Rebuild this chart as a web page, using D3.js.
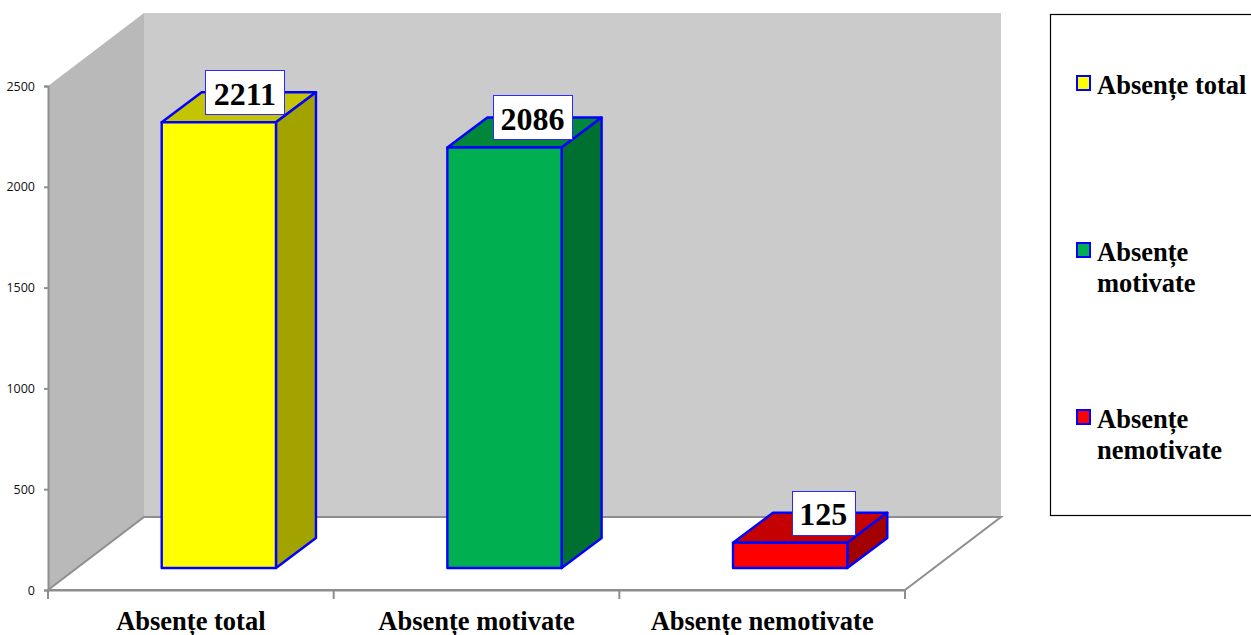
<!DOCTYPE html>
<html><head><meta charset="utf-8">
<script src="https://cdnjs.cloudflare.com/ajax/libs/d3/7.8.5/d3.min.js"></script>
<style>html,body{margin:0;padding:0;background:#fff;overflow:hidden}svg{display:block}</style>
</head><body><svg id="c" width="1251" height="635"></svg>
<script>
const categories = ["Absențe total", "Absențe motivate", "Absențe nemotivate"];
const values = [2211, 2086, 125];
const yTicks = [0, 500, 1000, 1500, 2000, 2500];
const frontColors = ["#ffff00", "#00b050", "#ff0000"];
const topColors = ["#c4c400", "#008739", "#c40000"];
const sideColors = ["#a3a300", "#007031", "#a30000"];
const legendLines = [["Absențe total"], ["Absențe", "motivate"], ["Absențe", "nemotivate"]];

const serif = '"Liberation Serif","Times New Roman",serif';
const svg = d3.select("#c");
const x = d3.scaleBand().domain(categories).range([48, 905]);
const y = d3.scaleLinear().domain([0, 2500]).range([590, 86]);
const wallDx = 96, wallDy = -73;
const pts = a => a.map(p => p.join(",")).join(" ");
const axisCol = "#8e8e8e";

// walls and floor
const y0 = y(0), yT = y(2500), xL = x.range()[0], xR = x.range()[1];
svg.append("polygon").attr("fill", "#cbcbcb")
  .attr("points", pts([[xL+wallDx,yT+wallDy],[xR+wallDx,yT+wallDy],[xR+wallDx,y0+wallDy],[xL+wallDx,y0+wallDy]]));
svg.append("polygon").attr("fill", "#b9b9b9")
  .attr("points", pts([[xL,yT],[xL+wallDx,yT+wallDy],[xL+wallDx,y0+wallDy],[xL,y0]]));
svg.append("polygon").attr("fill", "#fff").attr("stroke", axisCol).attr("stroke-width", 2)
  .attr("points", pts([[xL,y0],[xL+wallDx,y0+wallDy],[xR+wallDx,y0+wallDy],[xR,y0]]));

// axes
const yAxis = svg.append("g").attr("transform", `translate(${xL},0)`)
  .call(d3.axisLeft(y).tickValues(yTicks).tickSize(4).tickPadding(9).tickFormat(d3.format("d")));
yAxis.selectAll("path,line").attr("stroke", axisCol).attr("stroke-width", 2);
yAxis.selectAll("text").attr("fill", "#111").style("font", '12.5px "Open Sans","Noto Sans",sans-serif');
const xAxis = svg.append("g").attr("transform", `translate(0,${y0})`)
  .call(d3.axisBottom(x).tickSize(0).tickPadding(22));
xAxis.select("path").attr("stroke", axisCol).attr("stroke-width", 2);
xAxis.selectAll("text").attr("fill", "#000").style("font", `bold 26.5px ${serif}`);
xAxis.selectAll("text").attr("dy", null).attr("y", 40);
const edges = categories.map(c => x(c)).concat([xR]);
svg.append("g").selectAll("line").data(edges).join("line")
  .attr("x1", d => d).attr("x2", d => d).attr("y1", y0).attr("y2", y0 + 9)
  .attr("stroke", axisCol).attr("stroke-width", 2);

// bars
const barInsetX = 28, barInsetY = -22, depthX = 40, depthY = -30;
const barW = x.bandwidth() * 0.4;
const stroke = "#0000ff";
const bars = svg.append("g").selectAll("g").data(categories).join("g");
bars.each(function(c, i) {
  const g = d3.select(this);
  const x0 = x(c) + x.bandwidth() * 0.3 + barInsetX, x1 = x0 + barW;
  const b = y(0) + barInsetY, t = y(values[i]) + barInsetY;
  const face = (p, f) => g.append("polygon").attr("points", pts(p)).attr("fill", f)
    .attr("stroke", stroke).attr("stroke-width", 2.4).attr("stroke-linejoin", "round");
  face([[x0,t],[x1,t],[x1+depthX,t+depthY],[x0+depthX,t+depthY]], topColors[i]);
  face([[x1,t],[x1+depthX,t+depthY],[x1+depthX,b+depthY],[x1,b]], sideColors[i]);
  face([[x0,t],[x1,t],[x1,b],[x0,b]], frontColors[i]);
});

// data labels
const labelH = 44, labelGap = 8;
const labelShift = c => 26 + (c === categories[1] ? 2 : c === categories[2] ? 7 : 0);
const labels = svg.append("g").selectAll("g").data(categories).join("g");
labels.each(function(c, i) {
  const g = d3.select(this);
  const cx = x(c) + x.bandwidth() * 0.3 + barInsetX + barW / 2 + labelShift(c);
  const top = y(values[i]) + barInsetY - labelH - labelGap;
  const txt = String(values[i]);
  const w = txt.length * 16 + 15;
  g.append("rect").attr("x", Math.round(cx - w / 2) + 0.5).attr("y", Math.round(top) + 0.5).attr("width", w).attr("height", labelH)
    .attr("fill", "#fff").attr("stroke", "#2a2aff").attr("stroke-width", 1);
  g.append("text").attr("x", cx).attr("y", top + 34.5).attr("text-anchor", "middle")
    .style("font", `bold 32px ${serif}`).attr("fill", "#000").text(txt);
});

// legend
svg.append("rect").attr("x", 1050.5).attr("y", 14.5).attr("width", 260).attr("height", 501)
  .attr("fill", "#fff").attr("stroke", "#000").attr("stroke-width", 1.2);
const legY = d3.scalePoint().domain(categories).range([83, 417]);
const leg = svg.append("g").selectAll("g").data(categories).join("g");
leg.each(function(c, i) {
  const g = d3.select(this), cy = legY(c);
  g.append("rect").attr("x", 1077).attr("y", cy - 7).attr("width", 13).attr("height", 14)
    .attr("fill", frontColors[i]).attr("stroke", stroke).attr("stroke-width", 2);
  legendLines[i].forEach((l, k) => g.append("text").attr("x", 1097).attr("y", cy + 11 + k * 31)
    .style("font", `bold 26.5px ${serif}`).attr("fill", "#000").text(l));
});
</script></body></html>
